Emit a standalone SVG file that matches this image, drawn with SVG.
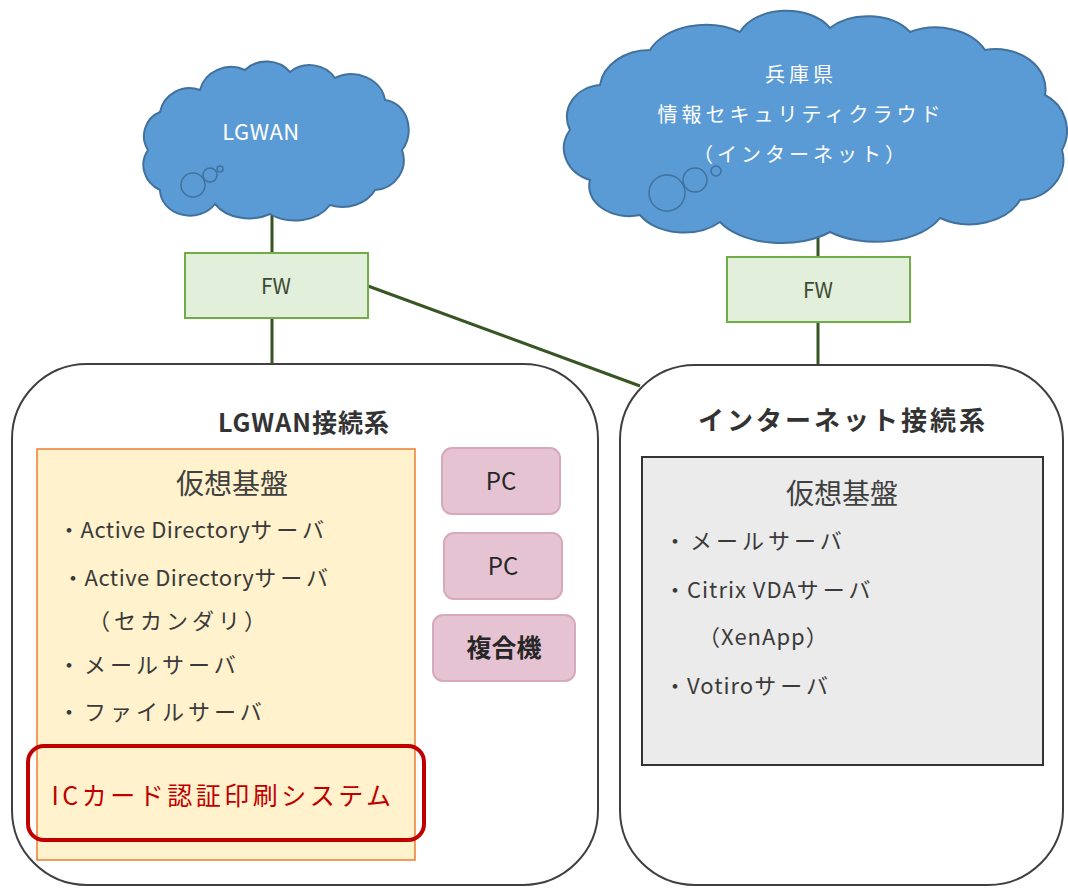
<svg xmlns="http://www.w3.org/2000/svg" width="1068" height="889" viewBox="0 0 1068 889">
<style>
text{font-family:"Noto Sans CJK JP","Open Sans",sans-serif;fill:#3a3a3a}
.cloud{fill:#5b9bd5;stroke:#41719c;stroke-width:2}
.bub{fill:none;stroke:#41719c;stroke-width:1.5}
.ct{fill:#ffffff;font-size:20px;text-anchor:middle;letter-spacing:4px}
.fw{fill:#e2efda;stroke:#70ad47;stroke-width:2}
.fwt{font-size:21px;text-anchor:middle;fill:#3b4a33}
.cont{fill:#ffffff;stroke:#3f3f3f;stroke-width:2}
.title{font-size:25px;font-weight:bold;text-anchor:middle;fill:#333333}
.pc{fill:#e6c3d2;stroke:#d6a9bd;stroke-width:2}
.pct{font-size:24px;text-anchor:middle;fill:#262626}
.item{font-size:22px;letter-spacing:0.5px}
.k{letter-spacing:4px}
.head{font-size:28px;text-anchor:middle;fill:#404040}
.conn{stroke:#375623;stroke-width:3;fill:none}
</style>
<g id="connectors">
<line class="conn" x1="272" y1="212" x2="272" y2="253"/>
<line class="conn" x1="272" y1="318" x2="272" y2="364"/>
<line class="conn" x1="818" y1="232" x2="818" y2="257"/>
<line class="conn" x1="818" y1="322" x2="818" y2="366"/>
<line class="conn" x1="368" y1="286" x2="640" y2="386"/>
</g>
<g id="cloud-lgwan">
<path class="cloud" d="M 160,190 A 30,28 0 0 1 148,150 A 26,26 0 0 1 160,112 A 30,30 0 0 1 200,90 A 32,30 0 0 1 245,70 A 30,28 0 0 1 290,72 A 30,28 0 0 1 335,78 A 34,30 0 0 1 385,100 A 26,30 0 0 1 402,150 A 30,30 0 0 1 375,190 A 36,30 0 0 1 330,205 A 40,30 0 0 1 270,214 A 40,30 0 0 1 215,204 A 30,26 0 0 1 160,190 Z"/>
<circle class="bub" cx="193" cy="185" r="12"/>
<circle class="bub" cx="210" cy="175" r="7"/>
<circle class="bub" cx="220" cy="169" r="3"/>
<text class="ct" x="261" y="140" style="letter-spacing:0.5px;font-size:22px">LGWAN</text>
</g>
<g id="cloud-hyogo">
<path class="cloud" d="M 590,180 A 40,34 0 0 1 570,130 A 36,32 0 0 1 600,85 A 50,40 0 0 1 650,50 A 60,40 0 0 1 740,32 A 50,34 0 0 1 830,28 A 50,34 0 0 1 910,32 A 55,40 0 0 1 985,50 A 50,40 0 0 1 1045,95 A 40,40 0 0 1 1062,150 A 45,40 0 0 1 1020,200 A 55,40 0 0 1 940,218 A 70,40 0 0 1 830,232 A 70,40 0 0 1 720,222 A 50,34 0 0 1 640,215 A 40,30 0 0 1 590,180 Z"/>
<circle class="bub" cx="667" cy="193" r="18"/>
<circle class="bub" cx="695" cy="180" r="12"/>
<circle class="bub" cx="716" cy="171" r="5"/>
<text class="ct" x="801" y="82">兵庫県</text>
<text class="ct" x="801" y="122">情報セキュリティクラウド</text>
<text class="ct" x="801" y="162">（インターネット）</text>
</g>
<g id="fw-lgwan">
<rect class="fw" x="185" y="253" width="183" height="65"/>
<text class="fwt" x="276" y="294">FW</text>
</g>
<g id="fw-internet">
<rect class="fw" x="727" y="257" width="183" height="65"/>
<text class="fwt" x="818" y="298">FW</text>
</g>
<g id="lgwan-system">
<rect class="cont" x="12" y="364" width="586" height="521" rx="75" ry="75"/>
<text class="title" x="304" y="432" style="letter-spacing:1px">LGWAN接続系</text>
</g>
<g id="lgwan-virtual">
<rect x="37" y="449" width="378" height="411" fill="#fff2cc" stroke="#ed7d31" stroke-width="1.5"/>
<text class="head" x="232" y="494">仮想基盤</text>
<text class="item" x="58" y="538">・Active Directory<tspan class="k">サーバ</tspan></text>
<text class="item" x="62" y="586">・Active Directory<tspan class="k">サーバ</tspan></text>
<text class="item k" x="88" y="629">（セカンダリ）</text>
<text class="item k" x="58" y="673">・メールサーバ</text>
<text class="item k" x="58" y="720">・ファイルサーバ</text>
</g>
<g id="ic-card">
<rect x="28" y="746" width="396" height="94" rx="16" ry="16" fill="none" stroke="#c00000" stroke-width="4"/>
<text x="223" y="805" font-size="25" text-anchor="middle" style="fill:#c00000;letter-spacing:3.5px">ICカード認証印刷システム</text>
</g>
<g id="pc1">
<rect class="pc" x="442" y="448" width="118" height="66" rx="10" ry="10"/>
<text class="pct" x="501" y="490">PC</text>
</g>
<g id="pc2">
<rect class="pc" x="444" y="533" width="118" height="66" rx="10" ry="10"/>
<text class="pct" x="503" y="575">PC</text>
</g>
<g id="mfp">
<rect class="pc" x="433" y="615" width="142" height="66" rx="10" ry="10"/>
<text class="pct" x="504" y="657" style="font-weight:bold;font-size:25px">複合機</text>
</g>
<g id="internet-system">
<rect class="cont" x="620" y="365" width="443" height="520" rx="75" ry="75"/>
<text class="title" x="843" y="430" style="font-size:26px;letter-spacing:3px">インターネット接続系</text>
</g>
<g id="internet-virtual">
<rect x="642" y="457" width="401" height="308" fill="#ebebeb" stroke="#333333" stroke-width="2"/>
<text class="head" x="842" y="504">仮想基盤</text>
<text class="item k" x="664" y="549">・メールサーバ</text>
<text class="item" x="664" y="598" style="letter-spacing:1px">・Citrix VDA<tspan class="k">サーバ</tspan></text>
<text class="item" x="698" y="645" style="letter-spacing:1px">（XenApp）</text>
<text class="item" x="664" y="694" style="letter-spacing:1px">・Votiro<tspan class="k">サーバ</tspan></text>
</g>
</svg>
